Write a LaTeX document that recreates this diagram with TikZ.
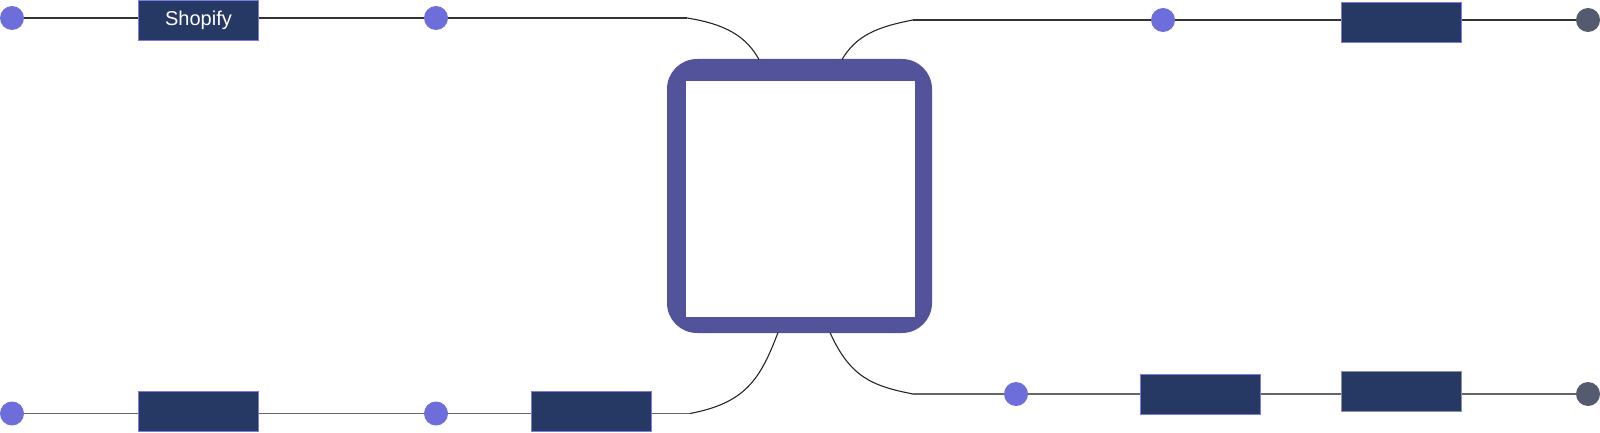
\documentclass[tikz,border=0pt]{standalone}
\usepackage{fontspec}
\setmainfont{Liberation Sans}
\definecolor{dotc}{HTML}{6E6EDB}
\definecolor{boxc}{HTML}{263864}
\definecolor{boxb}{HTML}{7B7BE0}
\definecolor{boxg}{HTML}{8E92A0}
\definecolor{endc}{HTML}{555B6E}
\definecolor{sqc}{HTML}{53539B}
\definecolor{linedark}{HTML}{333333}
\definecolor{linegray}{HTML}{666666}
\begin{document}
\begin{tikzpicture}[x=1pt,y=-1pt,
  dotn/.style={circle,fill=dotc,minimum size=24pt,inner sep=0pt},
  endn/.style={circle,fill=endc,minimum size=24pt,inner sep=0pt},
  boxn/.style={rectangle,fill=boxc,draw=boxb,line width=1pt,minimum width=120pt,minimum height=40pt,inner sep=0pt,text=white,font=\fontsize{20}{24}\selectfont},
  boxgn/.style={boxn,draw=boxg},
  topline/.style={draw=linedark,line width=1.1pt},
  botline/.style={draw=linegray,line width=1.6pt},
  curvel/.style={draw=black!85,line width=1.1pt}]
\useasboundingbox (0,0) rectangle (1600,433);
% central square
\node[fill=sqc,rounded corners=30pt,minimum width=265pt,minimum height=274pt,inner sep=0pt] (sq) at (799.5,196) {};
\node[fill=white,minimum width=229pt,minimum height=236pt,inner sep=0pt] (sqin) at (800.5,199) {};
% junction coordinates
\coordinate (j1) at (687,18);
\coordinate (t1) at (759,59.5);
\coordinate (t2) at (842,59.5);
\coordinate (j2) at (913,20);
\coordinate (bl) at (778,332.5);
\coordinate (j3) at (690,413.5);
\coordinate (br) at (830,332.5);
\coordinate (j4) at (913,394);
% top-left row
\node[dotn] (d1) at (12,18) {};
\node[boxn] (b1) at (198.5,20.5) {Shopify};
\node[dotn] (d2) at (436,18) {};
% top-right row
\node[dotn] (d3) at (1163,20) {};
\node[boxn] (b2) at (1401,22.7) {};
\node[endn] (e1) at (1588,20) {};
% bottom-left row
\node[dotn] (d4) at (12,413.5) {};
\node[boxn] (b3) at (198.5,411.5) {};
\node[dotn] (d5) at (436,413.5) {};
\node[boxn] (b4) at (591.5,411.5) {};
% bottom-right row
\node[dotn] (d6) at (1016,394) {};
\node[boxn] (b5) at (1200,394) {};
\node[boxgn] (b6) at (1401,391.2) {};
\node[endn] (e2) at (1588,394) {};
% connectors top-left
\draw[topline] (d1) -- (d1 -| b1.west);
\draw[topline] (d2 -| b1.east) -- (d2);
\draw[topline] (d2) -- (j1);
\draw[curvel] (j1) .. controls (725,24) and (746,36) .. (t1);
% top-right
\draw[curvel] (t2) .. controls (856,36) and (876,27) .. (j2);
\draw[topline] (j2) -- (d3);
\draw[topline] (d3) -- (d3 -| b2.west);
\draw[topline] (d3 -| b2.east) -- (e1);
% bottom-left
\draw[botline] (d4) -- (d4 -| b3.west);
\draw[botline] (d5 -| b3.east) -- (d5);
\draw[botline] (d5) -- (d5 -| b4.west);
\draw[botline] (d5 -| b4.east) -- (j3);
\draw[curvel] (j3) .. controls (745,403) and (760,380) .. (bl);
% bottom-right
\draw[curvel] (br) .. controls (850,377) and (872,386) .. (j4);
\draw[botline] (j4) -- (d6);
\draw[botline] (d6) -- (d6 -| b5.west);
\draw[botline] (d6 -| b5.east) -- (d6 -| b6.west);
\draw[botline] (d6 -| b6.east) -- (e2);
\end{tikzpicture}
\end{document}
